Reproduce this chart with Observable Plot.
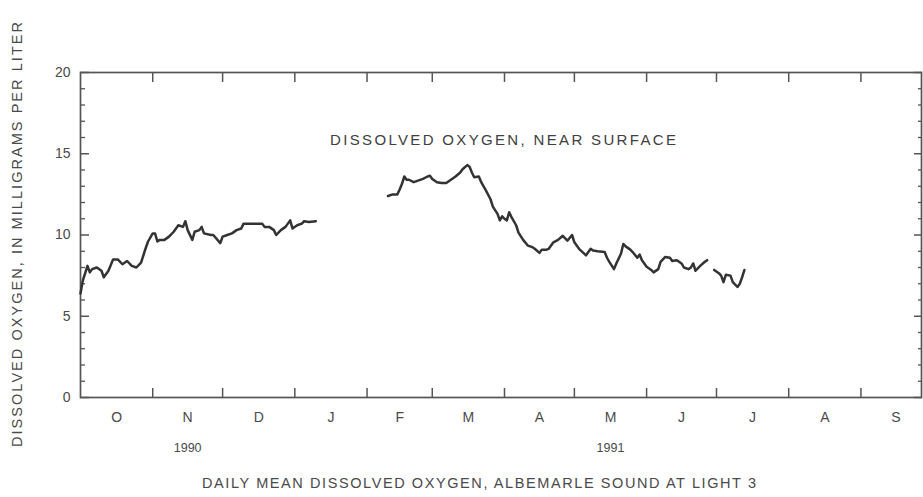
<!DOCTYPE html>
<html><head><meta charset="utf-8">
<script src="https://cdn.jsdelivr.net/npm/d3@7"></script>
<script src="https://cdn.jsdelivr.net/npm/@observablehq/plot@0.6"></script>
<style>
html,body{margin:0;padding:0;background:#fff;}
</style>
</head><body><div id="chart"></div>
<script>
// Daily mean dissolved oxygen (mg/L); null = missing record (gap in line)
const dates = [
"1990-10-01","1990-10-02","1990-10-04","1990-10-05","1990-10-06","1990-10-08","1990-10-10","1990-10-11","1990-10-13","1990-10-15",
"1990-10-17","1990-10-19","1990-10-21","1990-10-23","1990-10-25","1990-10-27","1990-10-29","1990-10-30","1990-11-01","1990-11-02",
"1990-11-03","1990-11-04","1990-11-06","1990-11-08","1990-11-10","1990-11-12","1990-11-14","1990-11-15","1990-11-16","1990-11-18",
"1990-11-19","1990-11-21","1990-11-22","1990-11-23","1990-11-26","1990-11-27","1990-11-30","1990-12-01","1990-12-03","1990-12-05",
"1990-12-07","1990-12-09","1990-12-10","1990-12-13","1990-12-16","1990-12-18","1990-12-19","1990-12-21","1990-12-23","1990-12-24",
"1990-12-26","1990-12-28","1990-12-30","1990-12-31","1991-01-02","1991-01-04","1991-01-05","1991-01-07","1991-01-10","1991-01-11",
"1991-02-10","1991-02-12","1991-02-14","1991-02-15","1991-02-16","1991-02-17","1991-02-18","1991-02-19","1991-02-21","1991-02-22",
"1991-02-25","1991-02-27","1991-02-28","1991-03-01","1991-03-03","1991-03-05","1991-03-07","1991-03-09","1991-03-11","1991-03-13",
"1991-03-14","1991-03-16","1991-03-17","1991-03-18","1991-03-19","1991-03-21","1991-03-22","1991-03-24","1991-03-26","1991-03-27",
"1991-03-29","1991-03-30","1991-03-31","1991-04-01","1991-04-02","1991-04-03","1991-04-04","1991-04-06","1991-04-07","1991-04-09",
"1991-04-11","1991-04-13","1991-04-14","1991-04-16","1991-04-17","1991-04-19","1991-04-20","1991-04-22","1991-04-24","1991-04-26",
"1991-04-28","1991-04-30","1991-05-01","1991-05-03","1991-05-06","1991-05-08","1991-05-09","1991-05-11","1991-05-14","1991-05-15",
"1991-05-16","1991-05-18","1991-05-19","1991-05-21","1991-05-22","1991-05-23","1991-05-25","1991-05-26","1991-05-28","1991-05-29",
"1991-05-30","1991-06-01","1991-06-03","1991-06-04","1991-06-06","1991-06-07","1991-06-09","1991-06-11","1991-06-12","1991-06-14",
"1991-06-16","1991-06-17","1991-06-19","1991-06-20","1991-06-21","1991-06-22","1991-06-24","1991-06-26","1991-06-27","1991-06-28",
"1991-06-30","1991-07-02","1991-07-03","1991-07-04","1991-07-05","1991-07-07","1991-07-08","1991-07-10","1991-07-11","1991-07-12",
"1991-07-13"
];
const oxygen = [
6.4,7.2,8.1,7.7,7.9,8.0,7.8,7.4,7.8,8.5,
8.5,8.2,8.4,8.1,8.0,8.3,9.2,9.6,10.1,10.1,
9.6,9.7,9.7,9.9,10.2,10.6,10.5,10.85,10.3,9.7,
10.2,10.3,10.5,10.1,10.0,10.0,9.5,9.9,10.0,10.1,
10.3,10.4,10.7,10.7,10.7,10.7,10.5,10.5,10.3,10.0,
10.3,10.5,10.9,10.4,10.6,10.7,10.85,10.8,10.85,null,
12.4,12.5,12.5,12.8,13.15,13.6,13.4,13.4,13.25,13.3,
13.45,13.6,13.65,13.45,13.25,13.2,13.2,13.4,13.6,13.85,
14.05,14.3,14.2,13.85,13.55,13.6,13.25,12.75,12.2,11.75,
11.3,10.9,11.15,11.0,10.9,11.4,11.1,10.6,10.15,9.7,
9.35,9.25,9.15,8.9,9.1,9.1,9.15,9.55,9.7,9.95,
9.65,10.0,9.55,9.15,8.75,9.15,9.05,9.0,8.95,8.6,
8.35,7.9,8.25,8.85,9.45,9.3,9.1,8.95,8.6,8.8,
8.45,8.05,7.85,7.7,7.9,8.35,8.65,8.6,8.4,8.45,
8.25,8.0,7.9,8.0,8.25,7.8,8.1,8.35,8.45,null,
7.85,7.65,7.5,7.1,7.55,7.5,7.1,6.8,7.0,7.4,
7.85
];
const monthStarts = ["1990-10-01","1990-11-01","1990-12-01","1991-01-01","1991-02-01","1991-03-01",
  "1991-04-01","1991-05-01","1991-06-01","1991-07-01","1991-08-01","1991-09-01"];
const monthLabels = ["O","N","D","J","F","M","A","M","J","J","A","S"];
const yearLabels = ["1990","1991"];
const yearMonths = ["1990-11-01","1991-05-01"];
const yMajorTicks = [0,5,10,15,20];
const yMinorTicks = [1,2,3,4,6,7,8,9,11,12,13,14,16,17,18,19];
const annotation = "DISSOLVED OXYGEN, NEAR SURFACE";
const yLabel = "DISSOLVED OXYGEN, IN MILLIGRAMS PER LITER";
const caption = "DAILY MEAN DISSOLVED OXYGEN, ALBEMARLE SOUND AT LIGHT 3";

const data = dates.map((d, i) => ({date: new Date(d), value: oxygen[i]}));
const monthDates = monthStarts.map(d => new Date(d));
const midMonth = d => { const s = new Date(d); return new Date((+s + +d3.utcMonth.offset(s, 1)) / 2); };
const ink = "#4a4a4a";

const chart = Plot.plot({
  width: 923, height: 497,
  marginLeft: 80, marginRight: 2, marginTop: 72, marginBottom: 100,
  style: {fontFamily: "'Liberation Sans', Arial, sans-serif", fontSize: "14px", color: ink, background: "white"},
  x: {type: "utc", domain: [new Date("1990-10-01"), new Date("1991-09-27")], axis: null},
  y: {domain: [0, 20], axis: null},
  marks: [
    Plot.frame({stroke: "#555", strokeWidth: 1.7}),
    Plot.axisX(monthDates.slice(1), {anchor: "bottom", tickSize: -9, tickFormat: () => "", label: null, stroke: "#555", strokeWidth: 1.5}),
    Plot.axisX(monthDates.slice(1), {anchor: "top", tickSize: -9, tickFormat: () => "", label: null, stroke: "#555", strokeWidth: 1.5}),
    Plot.axisY(yMajorTicks, {anchor: "left", tickSize: -9, tickPadding: 19, label: null, fontSize: 14, stroke: "#555", strokeWidth: 1.5}),
    Plot.axisY(yMinorTicks, {anchor: "left", tickSize: -5, tickFormat: () => "", label: null, stroke: "#555", strokeWidth: 1.3}),
    Plot.axisY(yMajorTicks, {anchor: "right", tickSize: -8, tickFormat: () => "", label: null, stroke: "#555", strokeWidth: 1.5}),
    Plot.axisY(yMinorTicks, {anchor: "right", tickSize: -4, tickFormat: () => "", label: null, stroke: "#555", strokeWidth: 1.3}),
    Plot.text(monthStarts, {x: d => midMonth(d), text: (d, i) => monthLabels[i], frameAnchor: "bottom", dy: 24, fontSize: 14, fill: ink}),
    Plot.text(yearLabels, {x: (d, i) => midMonth(yearMonths[i]), text: d => d, frameAnchor: "bottom", dy: 54, fontSize: 12.5, fill: ink}),
    Plot.text([annotation], {text: d => d, frameAnchor: "top", dy: 62, dx: 2, fontSize: 15, fill: "#404040"}),
    Plot.text([yLabel], {text: d => d, frameAnchor: "left", textAnchor: "start", dx: -63, dy: 212, rotate: -90, fontSize: 14.5, fill: ink}),
    Plot.text([caption], {text: d => d, frameAnchor: "bottom", dy: 90, dx: -22, fontSize: 14.5, fill: ink}),
    Plot.line(data, {x: "date", y: "value", stroke: "#333", strokeWidth: 2.5})
  ]
});
document.getElementById("chart").appendChild(chart);

// stretch the long labels to the spaced lettering of the original
const fit = {[annotation]: 346, [yLabel]: 425, [caption]: 554};
chart.querySelectorAll("text").forEach(t => {
  const w = fit[t.textContent];
  if (w) { t.setAttribute("textLength", w); t.setAttribute("lengthAdjust", "spacing"); }
});
</script>
</body></html>
